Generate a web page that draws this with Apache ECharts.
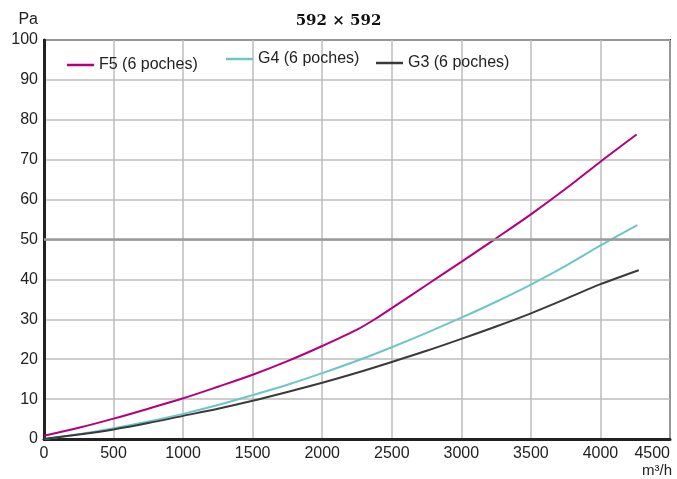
<!DOCTYPE html>
<html><head><meta charset="utf-8">
<script src="https://cdn.jsdelivr.net/npm/echarts@6/dist/echarts.min.js"></script>
<style>html,body{margin:0;padding:0;background:#fff}#c{width:677px;height:479px}</style>
</head><body><div id="c"></div>
<script>
const seriesNames = ['F5 (6 poches)', 'G4 (6 poches)', 'G3 (6 poches)'];
const f5X = [0, 250, 500, 750, 1000, 1250, 1500, 1750, 2000, 2250, 2400, 2500, 2750, 3000, 3250, 3500, 3750, 4000, 4260];
const f5Y = [0.8, 2.8, 5.1, 7.6, 10.2, 13.1, 16.1, 19.5, 23.3, 27.4, 30.5, 32.8, 38.6, 44.4, 50.3, 56.3, 62.7, 69.5, 76.3];
const g4X = [0, 250, 500, 750, 1000, 1250, 1500, 1750, 2000, 2250, 2500, 2750, 3000, 3250, 3500, 3750, 4000, 4265];
const g4Y = [0, 1.2, 2.7, 4.4, 6.3, 8.5, 11.0, 13.6, 16.5, 19.6, 23.0, 26.6, 30.4, 34.4, 38.7, 43.4, 48.5, 53.6];
const g3X = [0, 250, 500, 750, 1000, 1250, 1500, 1750, 2000, 2250, 2500, 2750, 3000, 3250, 3500, 3750, 4000, 4275];
const g3Y = [0, 1.1, 2.4, 4.0, 5.8, 7.6, 9.6, 11.8, 14.1, 16.6, 19.3, 22.1, 25.1, 28.2, 31.5, 35.1, 38.8, 42.3];
const colors = ['#b3007e', '#6cc6c9', '#3a3a3a'];
const font = '"Liberation Sans", sans-serif';

const pairs = (xs, ys) => xs.map((x, i) => [x, ys[i]]);
const datasets = [pairs(f5X, f5Y), pairs(g4X, g4Y), pairs(g3X, g3Y)];

const legendPos = [{left: 62, top: 52}, {left: 221, top: 46}, {left: 371, top: 50}];

const chart = echarts.init(document.getElementById('c'), null, {renderer: 'canvas'});
chart.setOption({
  backgroundColor: '#fff',
  animation: false,
  title: {text: '592 × 592', left: 'center', top: 9,
    textStyle: {fontFamily: '"DejaVu Serif", serif', fontWeight: 'bold', fontSize: 15, color: '#111'}},
  legend: seriesNames.map((n, i) => ({
    data: [n], left: legendPos[i].left, top: legendPos[i].top,
    icon: 'rect', itemWidth: 27, itemHeight: 2.5, itemGap: 6,
    textStyle: {fontFamily: font, fontSize: 16, color: '#222'}
  })),
  grid: {left: 44, right: 7, top: 40, bottom: 40, show: true, borderColor: '#222', borderWidth: 2,
    containLabel: false, outerBoundsMode: 'none'},
  xAxis: {
    type: 'value', min: 0, max: 4500, interval: 500,
    name: 'm³/h', nameLocation: 'end', nameGap: 2,
    nameTextStyle: {fontFamily: font, fontSize: 15, color: '#222', align: 'right', verticalAlign: 'top', padding: [24, 0, 0, 0]},
    axisLine: {lineStyle: {color: '#222', width: 3}},
    axisTick: {show: false},
    axisLabel: {fontFamily: font, fontSize: 16, color: '#222', margin: 7, formatter: v => String(v),
      alignMaxLabel: 'right'},
    splitLine: {lineStyle: {color: '#bdbdbd', width: 1.5}}
  },
  yAxis: {
    type: 'value', min: 0, max: 100, interval: 10,
    name: 'Pa', nameLocation: 'end', nameGap: 12,
    nameTextStyle: {fontFamily: font, fontSize: 16, color: '#222', align: 'right', padding: [0, 6, 0, 0]},
    axisLine: {show: true, lineStyle: {color: '#222', width: 3}},
    axisTick: {show: false},
    axisLabel: {fontFamily: font, fontSize: 16, color: '#222', margin: 6},
    splitLine: {lineStyle: {color: '#bdbdbd', width: 1.5}}
  },
  series: seriesNames.map((n, i) => ({
    name: n, type: 'line', data: datasets[i], smooth: 0.3, showSymbol: false,
    lineStyle: {color: colors[i], width: 2}, itemStyle: {color: colors[i]},
    z: 3 + i,
    markLine: i === 0 ? {silent: true, symbol: 'none', label: {show: false},
      lineStyle: {color: '#9a9a9a', width: 2.5, type: 'solid'}, data: [{yAxis: 50}]} : undefined
  }))
});
</script></body></html>
